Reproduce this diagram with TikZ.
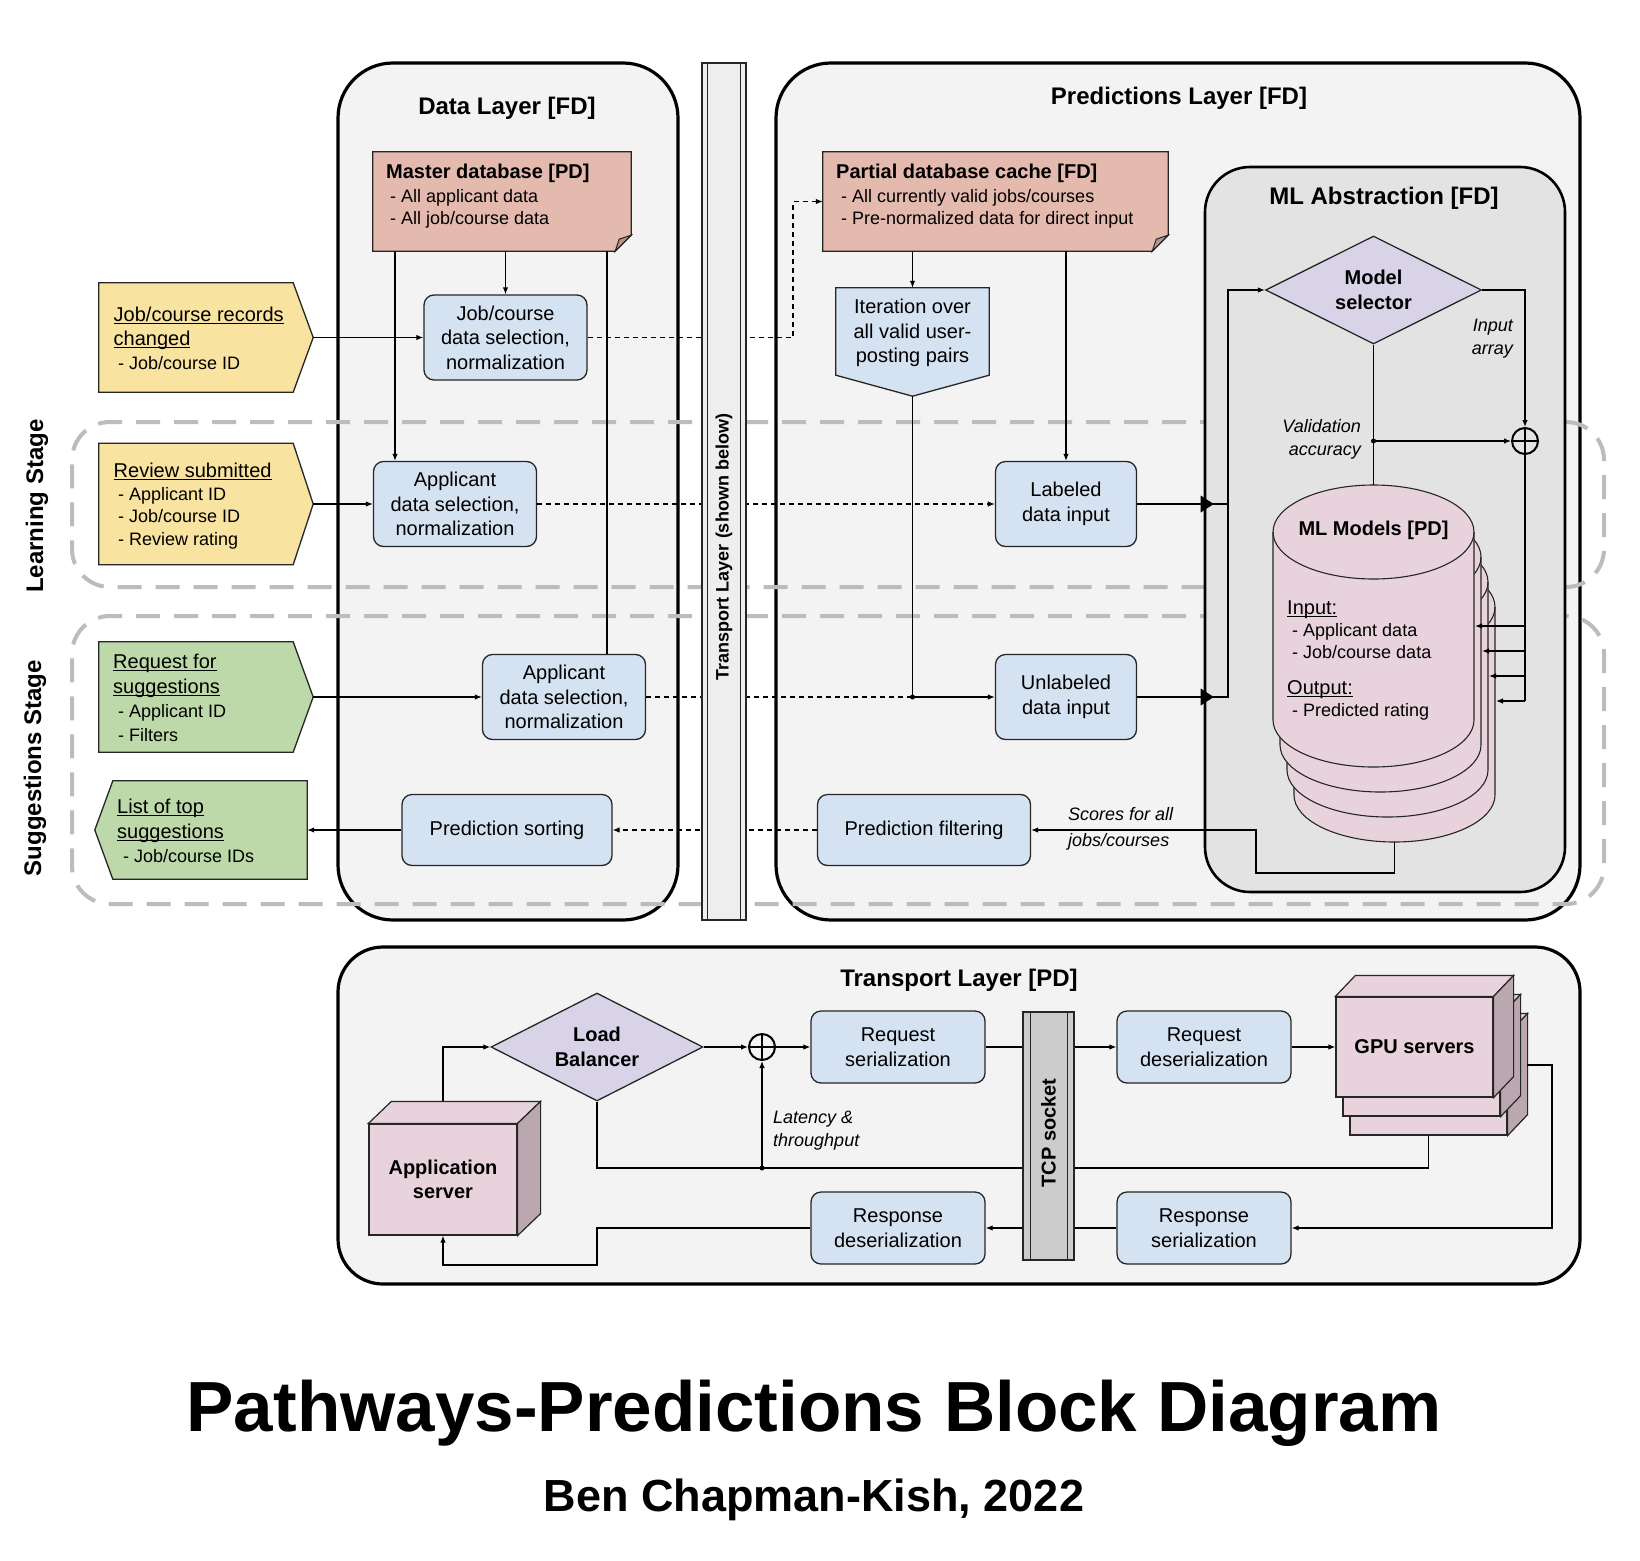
\documentclass[tikz,border=0pt]{standalone}
\usepackage{fontspec}
\setmainfont{Liberation Sans}
\usetikzlibrary{shapes.geometric,arrows.meta,calc}
\definecolor{layerbg}{HTML}{F3F3F3}
\definecolor{mlbg}{HTML}{E3E3E3}
\definecolor{bluebx}{HTML}{D5E2F2}
\definecolor{salmon}{HTML}{E4B9AE}
\definecolor{salmondk}{HTML}{B7948B}
\definecolor{yel}{HTML}{F9E3A0}
\definecolor{grn}{HTML}{BDD8A9}
\definecolor{purp}{HTML}{D9D3E8}
\definecolor{pinkc}{HTML}{E8D3DD}
\definecolor{pinkdk}{HTML}{BAA7AF}
\definecolor{stagegray}{HTML}{BCBCBC}
\definecolor{barfill}{HTML}{EEEEEE}
\definecolor{tcpfill}{HTML}{CCCCCC}
\definecolor{edge}{HTML}{262626}
\newsavebox\ulbox
\newcommand\uln[1]{\sbox\ulbox{#1}\rlap{\rule[-2.6pt]{\wd\ulbox}{1.1pt}}\usebox\ulbox}
\newcommand\fbody{\fontsize{20pt}{24.5pt}\selectfont}
\newcommand\fboldb{\fontsize{20pt}{24.5pt}\selectfont\bfseries}
\newcommand\fsub{\fontsize{18pt}{22.5pt}\selectfont}
\newcommand\fhead{\fontsize{24pt}{29pt}\selectfont\bfseries}
\newcommand\fbar{\fontsize{18pt}{22pt}\selectfont\bfseries}
\newcommand\fital{\fontsize{18pt}{23pt}\selectfont\itshape}
\newcommand\lineat[4]{\node[txt, font=#1] (#2) at (#3) {#4};}
\newcommand\mlcyl[3]{%
  \filldraw[fill=pinkc, draw=edge, line width=1.1pt]
    (#1-100.5,#2) -- (#1-100.5,#3)
    .. controls (#1-100.5,#3+26) and (#1-55.5,#3+47) .. (#1,#3+47)
    .. controls (#1+55.5,#3+47) and (#1+100.5,#3+26) .. (#1+100.5,#3)
    -- (#1+100.5,#2)
    .. controls (#1+100.5,#2-26) and (#1+55.5,#2-47) .. (#1,#2-47)
    .. controls (#1-55.5,#2-47) and (#1-100.5,#2-26) .. (#1-100.5,#2) -- cycle;
  \draw[draw=edge, line width=1.1pt]
    (#1-100.5,#2) .. controls (#1-100.5,#2+26) and (#1-55.5,#2+47) .. (#1,#2+47)
    .. controls (#1+55.5,#2+47) and (#1+100.5,#2+26) .. (#1+100.5,#2);}
\newcommand\cubefaces[3]{%
  \filldraw[fill=pinkc, draw=edge, line width=1.2pt] (#1.north west) -- ([shift={(#2pt,#3pt)}]#1.north west) -- ([shift={(#2pt,#3pt)}]#1.north east) -- (#1.north east) -- cycle;
  \filldraw[fill=pinkdk, draw=edge, line width=1.2pt] (#1.north east) -- ([shift={(#2pt,#3pt)}]#1.north east) -- ([shift={(#2pt,#3pt)}]#1.south east) -- (#1.south east) -- cycle;}
\begin{document}
\begin{tikzpicture}[x=1pt,y=-1pt,
  layerbox/.style={draw=black, line width=3.2pt, fill=layerbg, rounded corners=55pt, inner sep=0pt},
  stagebox/.style={draw=stagegray, line width=4pt, dash pattern=on 24pt off 14pt, rounded corners=38pt, inner sep=0pt},
  bluebox/.style={draw=edge, line width=1.3pt, fill=bluebx, rounded corners=10pt, align=center, font=\fbody, inner sep=0pt},
  cubefront/.style={draw=edge, line width=1.2pt, fill=pinkc, align=center, font=\fboldb, inner sep=0pt},
  dia/.style={diamond, aspect=2, draw=edge, line width=1.3pt, fill=purp, align=center, font=\fboldb, inner sep=0pt},
  shp/.style={draw=edge, line width=1.3pt},
  txt/.style={anchor=base west, inner sep=0pt},
  conn/.style={line width=1.2pt},
  arr/.style={line width=1.2pt, -{Latex[length=7pt,width=5.5pt]}},
  dconn/.style={line width=1.1pt, dash pattern=on 5pt off 4pt},
  darr/.style={line width=1.1pt, dash pattern=on 5pt off 4pt, -{Latex[length=7pt,width=5.5pt]}},
  plus/.style={circle, draw=black, line width=2pt, minimum size=26pt, inner sep=0pt},
  bigtip/.style={fill=black}
]
\fill[white] (0,0) rectangle (1640,1560);
\useasboundingbox (0,0) rectangle (1640,1560);

% ---------- layers ----------
\node[layerbox, minimum width=340pt, minimum height=857pt] (datalayer) at (508,491.5) {};
\node[layerbox, minimum width=804pt, minimum height=857pt] (predlayer) at (1178,491.5) {};
\node[layerbox, rounded corners=45pt, minimum width=1242pt, minimum height=337pt] (tlayer) at (959,1115.5) {};

% ---------- stage regions ----------
\node[stagebox, minimum width=1532pt, minimum height=165pt] (learnreg) at (838,504.5) {};
\node[stagebox, minimum width=1532pt, minimum height=288pt] (suggreg) at (838,760) {};

% ---------- ML abstraction ----------
\node[draw=black, line width=2.6pt, fill=mlbg, rounded corners=45pt, minimum width=360pt, minimum height=725pt, inner sep=0pt] (mlabs) at (1385,529.5) {};

% ---------- titles ----------
\node[font=\fhead] (dltitle) at (507,108) {Data Layer [FD]};
\node[font=\fhead] (pltitle) at (1179,98) {Predictions Layer [FD]};
\node[font=\fhead] (mltitle) at (1384,198) {ML Abstraction [FD]};
\node[font=\fhead] (tltitle) at (959,980) {Transport Layer [PD]};
\node[font=\fhead, rotate=90] (lstage) at (37,506) {Learning Stage};
\node[font=\fhead, rotate=90] (sstage) at (35,768) {Suggestions Stage};

% ---------- note boxes ----------
\node[inner sep=0pt, minimum width=258pt, minimum height=99pt] (master) at (502,201.5) {};
\filldraw[fill=salmon, shp] (master.north west) -- (master.north east) -- ([yshift=16pt]master.south east) -- ([xshift=-16pt]master.south east) -- (master.south west) -- cycle;
\filldraw[fill=salmondk, draw=edge, line width=1pt] ([yshift=16pt]master.south east) -- ([xshift=-16pt]master.south east) -- ([xshift=-12pt,yshift=12pt]master.south east) -- cycle;
\lineat{\fboldb}{mA}{386,178}{Master database [PD]}
\lineat{\fsub}{mB}{390,202}{- All applicant data}
\lineat{\fsub}{mC}{390,224}{- All job/course data}

\node[inner sep=0pt, minimum width=345pt, minimum height=99pt] (partial) at (995.5,201.5) {};
\filldraw[fill=salmon, shp] (partial.north west) -- (partial.north east) -- ([yshift=16pt]partial.south east) -- ([xshift=-16pt]partial.south east) -- (partial.south west) -- cycle;
\filldraw[fill=salmondk, draw=edge, line width=1pt] ([yshift=16pt]partial.south east) -- ([xshift=-16pt]partial.south east) -- ([xshift=-12pt,yshift=12pt]partial.south east) -- cycle;
\lineat{\fboldb}{pA}{836,178}{Partial database cache [FD]}
\lineat{\fsub}{pB}{841,202}{- All currently valid jobs/courses}
\lineat{\fsub}{pC}{841,224}{- Pre-normalized data for direct input}

% ---------- event pentagons ----------
\node[inner sep=0pt, minimum width=194pt, minimum height=109pt] (y1) at (196,337.5) {};
\filldraw[fill=yel, shp] (y1.north west) -- (y1.north east) -- ([xshift=20pt]y1.east) -- (y1.south east) -- (y1.south west) -- cycle;
\coordinate (y1tip) at ([xshift=20pt]y1.east);
\lineat{\fbody}{y1a}{113.5,321}{\uln{Job/course records}}
\lineat{\fbody}{y1b}{113.5,345}{\uln{changed}}
\lineat{\fsub}{y1c}{118,369}{- Job/course ID}

\node[inner sep=0pt, minimum width=194pt, minimum height=121pt] (y2) at (196,504) {};
\filldraw[fill=yel, shp] (y2.north west) -- (y2.north east) -- ([xshift=20pt]y2.east) -- (y2.south east) -- (y2.south west) -- cycle;
\coordinate (y2tip) at ([xshift=20pt]y2.east);
\lineat{\fbody}{y2a}{113.5,477}{\uln{Review submitted}}
\lineat{\fsub}{y2b}{118,500}{- Applicant ID}
\lineat{\fsub}{y2c}{118,522}{- Job/course ID}
\lineat{\fsub}{y2d}{118,545}{- Review rating}

\node[inner sep=0pt, minimum width=194pt, minimum height=110pt] (g1) at (196,697) {};
\filldraw[fill=grn, shp] (g1.north west) -- (g1.north east) -- ([xshift=20pt]g1.east) -- (g1.south east) -- (g1.south west) -- cycle;
\coordinate (g1tip) at ([xshift=20pt]g1.east);
\lineat{\fbody}{g1a}{113,668}{\uln{Request for}}
\lineat{\fbody}{g1b}{113,693}{\uln{suggestions}}
\lineat{\fsub}{g1c}{118,717}{- Applicant ID}
\lineat{\fsub}{g1d}{118,741}{- Filters}

\node[inner sep=0pt, minimum width=194pt, minimum height=98pt] (g2) at (210,830) {};
\filldraw[fill=grn, shp] (g2.north west) -- (g2.north east) -- (g2.south east) -- (g2.south west) -- ([xshift=-18pt]g2.west) -- cycle;
\lineat{\fbody}{g2a}{117,813}{\uln{List of top}}
\lineat{\fbody}{g2b}{117,838}{\uln{suggestions}}
\lineat{\fsub}{g2c}{123,862}{- Job/course IDs}

% ---------- blue process boxes ----------
\node[bluebox, minimum width=163pt, minimum height=85pt] (jcsel) at (505.5,337.5) {Job/course\\data selection,\\normalization};
\node[bluebox, minimum width=163pt, minimum height=85pt] (appsel1) at (455,504) {Applicant\\data selection,\\normalization};
\node[bluebox, minimum width=163pt, minimum height=85pt] (appsel2) at (564,697) {Applicant\\data selection,\\normalization};
\node[bluebox, minimum width=210pt, minimum height=71pt] (psort) at (507,830) {Prediction sorting};
\node[bluebox, minimum width=141pt, minimum height=85pt] (lab) at (1066,504) {Labeled\\data input};
\node[bluebox, minimum width=141pt, minimum height=85pt] (unlab) at (1066,697) {Unlabeled\\data input};
\node[bluebox, minimum width=213pt, minimum height=71pt] (pfilt) at (924,830) {Prediction filtering};

\node[inner sep=0pt, minimum width=153pt, minimum height=87pt] (iter) at (912.5,331.5) {};
\filldraw[fill=bluebx, shp] (iter.south west) -- (iter.north west) -- (iter.north east) -- (iter.south east) -- ([yshift=-21pt]iter.south) -- cycle;
\coordinate (itertip) at ([yshift=-21pt]iter.south);
\node[font=\fbody, align=center, inner sep=0pt] (itertxt) at (912.5,333) {Iteration over\\all valid user-\\posting pairs};

% ---------- ML abstraction contents ----------
\node[dia, minimum width=216pt, minimum height=108pt] (msel) at (1373.5,290) {Model\\selector};
\node[plus] (cp1) at (1525,441) {};
\draw[line width=2pt] (cp1.north) -- (cp1.south) (cp1.west) -- (cp1.east);

\mlcyl{1394.5}{607}{795}
\mlcyl{1387.5}{582}{770}
\mlcyl{1380.5}{557}{745}
\mlcyl{1373.5}{532}{720}
\node[font=\fboldb, inner sep=0pt] (mlmt) at (1373.5,530) {ML Models [PD]};
\lineat{\fbody}{mlin}{1287,614}{\uln{Input:}}
\lineat{\fsub}{mlia}{1292,636}{- Applicant data}
\lineat{\fsub}{mlib}{1292,658}{- Job/course data}
\lineat{\fbody}{mlout}{1287,694}{\uln{Output:}}
\lineat{\fsub}{mloa}{1292,716}{- Predicted rating}
\coordinate (cyltop) at (1373.5,485);
\coordinate (cylbot) at (1394.5,842);

% ---------- transport layer contents ----------
\node[dia, minimum width=212pt, minimum height=108pt] (lb) at (597,1047) {Load\\Balancer};
\node[plus] (cp2) at (762,1047) {};
\draw[line width=2pt] (cp2.north) -- (cp2.south) (cp2.west) -- (cp2.east);
\node[bluebox, minimum width=174pt, minimum height=72pt] (reqser) at (898,1047) {Request\\serialization};
\node[bluebox, minimum width=174pt, minimum height=72pt] (respdeser) at (898,1228) {Response\\deserialization};
\node[bluebox, minimum width=174pt, minimum height=72pt] (reqdeser) at (1204,1047) {Request\\deserialization};
\node[bluebox, minimum width=174pt, minimum height=72pt] (respser) at (1204,1228) {Response\\serialization};

\node[cubefront, minimum width=148pt, minimum height=111pt] (appsrv) at (443,1179.5) {Application\\server};
\cubefaces{appsrv}{23}{22}
\node[cubefront, minimum width=157pt, minimum height=100pt] (gpu3) at (1428.5,1085) {};
\cubefaces{gpu3}{20}{21}
\node[cubefront, minimum width=157pt, minimum height=100pt] (gpu2) at (1421.5,1066) {};
\cubefaces{gpu2}{20}{21}
\node[cubefront, minimum width=157pt, minimum height=100pt] (gpu1) at (1414.5,1047) {GPU servers};
\cubefaces{gpu1}{20}{21}

% ---------- connectors: data layer ----------
\draw[arr] (y1tip) -- (jcsel.west);
\draw[arr] (y2tip) -- (appsel1.west);
\draw[arr] (g1tip) -- (appsel2.west);
\draw[arr] (psort.west) -- (g2.east);
\coordinate (cA) at (395,0);
\coordinate (cC) at (607,0);
\draw[arr] (master.south -| cA) -- (appsel1.north -| cA);
\draw[arr] (master.south -| jcsel.north) -- (jcsel.north);
\draw[conn] (master.south -| cC) -- (appsel2.north -| cC);

\coordinate (dv) at (793,201.5);
\draw[darr] (jcsel.east) -| (dv) -- (partial.west);
\draw[darr] (appsel1.east) -- (lab.west);
\coordinate (jdot) at (itertip |- appsel2.east);
\draw[dconn] (appsel2.east) -- (jdot);
\draw[conn] (itertip) -- (jdot);
\draw[arr] (jdot) -- (unlab.west);
\fill (jdot) circle (2.5pt);
\draw[darr] (pfilt.west) -- (psort.east);

% ---------- connectors: predictions layer ----------
\draw[arr] (partial.south -| iter.north) -- (iter.north);
\draw[arr] (partial.south -| lab.north) -- (lab.north);
\coordinate (vl) at (1228,0);
\draw[arr] (unlab.east) -- (unlab.east -| vl) |- (msel.west);
\draw[conn] (lab.east) -- (lab.east -| vl);
\coordinate (ah1) at (lab.east -| mlabs.west);
\coordinate (ah2) at (unlab.east -| mlabs.west);
\fill[bigtip] ([xshift=10pt]ah1) -- ([xshift=-3pt,yshift=8.5pt]ah1) -- ([xshift=-3pt,yshift=-8.5pt]ah1) -- cycle;
\fill[bigtip] ([xshift=10pt]ah2) -- ([xshift=-3pt,yshift=8.5pt]ah2) -- ([xshift=-3pt,yshift=-8.5pt]ah2) -- cycle;

\draw[arr] (msel.east) -| (cp1.north);
\draw[conn] (msel.south) -- (cyltop);
\coordinate (vdot) at (msel.south |- cp1.west);
\fill (vdot) circle (2.5pt);
\draw[arr] (vdot) -- (cp1.west);
\coordinate (rt1) at (1525,626);
\coordinate (rt2) at (1525,651);
\coordinate (rt3) at (1525,676);
\coordinate (rt4) at (1525,701);
\coordinate (in1) at (1475,626);
\coordinate (in2) at (1482,651);
\coordinate (in3) at (1489,676);
\coordinate (in4) at (1496,701);
\draw[conn] (cp1.south) -- (rt4);
\draw[arr] (rt1) -- (in1);
\draw[arr] (rt2) -- (in2);
\draw[arr] (rt3) -- (in3);
\draw[arr] (rt4) -- (in4);
\coordinate (sc1) at (1256,873);
\draw[arr] (cylbot) |- (sc1) |- (pfilt.east);

% ---------- connectors: transport layer ----------
\draw[arr] ([yshift=22pt]appsrv.north) |- (lb.west);
\draw[arr] (lb.east) -- (cp2.west);
\draw[arr] (cp2.east) -- (reqser.west);
\draw[arr] (reqser.east) -- (reqdeser.west);
\draw[arr] (reqdeser.east) -- (gpu1.west);
\coordinate (gpuout) at (1527,1065);
\coordinate (gpuc) at (1552,1065);
\draw[arr] (gpuout) -- (gpuc) |- (respser.east);
\coordinate (lat) at (762,1168);
\draw[conn] (gpu3.south) |- (lat) -| (lb.south);
\fill (lat) circle (2.5pt);
\draw[arr] (lat) -- (cp2.south);
\draw[arr] (respser.west) -- (respdeser.east);
\coordinate (rb) at (597,1265);
\draw[arr] (respdeser.west) -| (rb) -| (appsrv.south);

% ---------- bars on top ----------
\node[draw=edge, line width=1.3pt, fill=barfill, minimum width=44pt, minimum height=857pt, inner sep=0pt] (tbar) at (724,491.5) {};
\draw[edge, line width=1.2pt] ([xshift=6pt]tbar.north west) -- ([xshift=6pt]tbar.south west) ([xshift=-6pt]tbar.north east) -- ([xshift=-6pt]tbar.south east);
\node[font=\fbar, rotate=90] (tbartxt) at (724,547) {Transport Layer (shown below)};

\node[draw=edge, line width=1.3pt, fill=tcpfill, minimum width=51pt, minimum height=248pt, inner sep=0pt] (tcp) at (1048.5,1136) {};
\draw[edge, line width=1.2pt] ([xshift=8pt]tcp.north west) -- ([xshift=8pt]tcp.south west) ([xshift=-7pt]tcp.north east) -- ([xshift=-7pt]tcp.south east);
\node[font=\fboldb, rotate=90] (tcptxt) at (1048.5,1133) {TCP socket};

% ---------- labels ----------
\node[font=\fital, align=right, anchor=east, inner sep=0pt] (inarr) at (1513,339) {Input\\array};
\node[font=\fital, align=right, anchor=east, inner sep=0pt] (valacc) at (1361,439) {Validation\\accuracy};
\node[font=\fital, align=left, anchor=west, inner sep=0pt] (scores) at (1068,829) {Scores for all\\[3pt]jobs/courses};
\node[font=\fital, align=left, anchor=west, inner sep=0pt] (latency) at (773,1131) {Latency \&\\throughput};

% ---------- main title ----------
\node[font=\fontsize{71pt}{80pt}\selectfont\bfseries, anchor=base, inner sep=0pt] (title) at (814,1431) {Pathways-Predictions Block Diagram};
\node[font=\fontsize{45pt}{54pt}\selectfont\bfseries, anchor=base, inner sep=0pt] (subtitle) at (814,1511) {Ben Chapman-Kish, 2022};
\end{tikzpicture}
\end{document}
